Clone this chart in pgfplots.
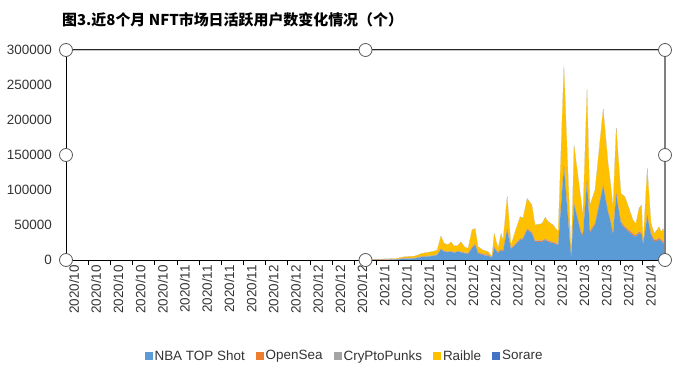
\documentclass[border=0pt]{standalone}
\usepackage{pgfplots}
\pgfplotsset{compat=1.18}
\usepackage{pgfplotstable}
\usepackage{fontspec}
\setmainfont{Liberation Sans}
\newfontfamily\cjk{Noto Sans CJK SC}
\definecolor{cnba}{HTML}{5B9BD5}
\definecolor{cos}{HTML}{ED7D31}
\definecolor{ccp}{HTML}{A5A5A5}
\definecolor{cra}{HTML}{FFC000}
\definecolor{cso}{HTML}{4472C4}
\pgfplotstableread{
day nba os cp ra so
0 0 0 0 0 0
96 0 0 0 0 0
97 200 200 400 150 50
104 400 300 500 750 50
107 1900 400 600 1800 100
110 2200 400 600 2200 100
112.3 4300 400 600 4100 100
115.5 5500 400 600 5400 100
117.1 7000 400 600 5900 100
118.3 15200 400 600 18000 100
119.3 12000 400 600 10700 100
120.5 11000 400 600 9900 100
121.5 12000 400 600 12900 100
122.4 10000 400 600 8900 100
123.7 12000 400 600 7900 100
124.6 11000 400 600 13900 100
125.9 9500 400 600 7400 100
126.9 8500 1200 700 6400 200
128.1 16700 1200 700 24200 200
129.1 21400 1200 700 21700 200
130.0 9500 1200 700 7400 200
131.6 7000 1200 700 5200 200
133.2 6000 1200 700 3900 200
134.4 3000 500 500 700 100
135.1 16700 1200 700 19200 200
136.3 9500 1200 700 5400 200
137.3 14000 1200 700 21900 200
137.9 12000 1200 700 13900 200
139.2 43000 1200 700 46300 200
140.4 15200 1200 700 4100 200
141.7 21000 1200 700 17400 200
143.3 28600 1200 700 31300 200
144.2 30000 1200 700 27900 200
145.5 43000 1200 700 42900 200
147.0 38000 1200 700 38500 200
148.0 26000 1200 700 21900 200
148.9 26000 1200 700 22900 200
150.2 26000 1200 700 23900 200
151.2 28600 1200 700 30300 200
152.1 26000 1200 700 26900 200
153.7 24000 1200 700 23900 200
155.3 21000 1200 700 17400 200
157.1 133000 2000 800 140900 300
159.4 2000 500 500 1700 100
160.3 78600 2000 800 82300 300
162.5 38000 2000 800 44600 300
163.1 34000 2000 800 27900 300
164.4 112000 2000 800 128900 300
165.3 39000 2000 800 36500 300
166.9 50000 2000 800 46900 300
169.5 105000 2000 800 107900 300
171.0 68000 2000 800 68900 300
171.7 57000 2000 800 53900 300
172.6 36000 2000 800 36900 300
173.6 93000 2000 800 92900 300
175.1 52000 2000 800 39900 300
176.4 45000 2000 800 41900 300
178.9 35000 2000 800 18900 300
179.8 33000 2000 800 15900 300
180.8 38000 2000 800 32700 300
181.6 37000 2000 800 38500 300
182.1 22000 1000 500 2300 200
183.4 62000 2000 800 65900 300
184.6 35000 2000 800 13900 300
185.6 27000 2000 800 7900 300
186.5 27000 2000 800 12900 300
187.1 29000 2000 800 15500 300
187.8 27000 2000 800 9900 300
188.4 24000 2000 800 17900 300
189 22000 2000 800 9900 300
}\datatable
\begin{document}
\begin{tikzpicture}
\path[use as bounding box] (0,0) rectangle (687bp,375bp);
\node[anchor=west, inner sep=0pt, font=\cjk\bfseries\fontsize{15}{17}\selectfont] at (62bp,355bp) {图3.近8个月 NFT市场日活跃用户数变化情况（个）};
\begin{axis}[
  at={(66bp,115bp)}, anchor=south west,
  width=599bp, height=210bp, scale only axis,
  xmin=0, xmax=189, ymin=0, ymax=300000,
  stack plots=y,
  axis x line*=bottom, axis y line*=left,
  axis line style={-, black, line width=0.9bp},
  xtick={0,7,...,182},
  xticklabels={2020/10,2020/10,2020/10,2020/10,2020/10,2020/11,2020/11,2020/11,2020/11,2020/12,2020/12,2020/12,2020/12,2020/12,2021/1,2021/1,2021/1,2021/1,2021/2,2021/2,2021/2,2021/2,2021/3,2021/3,2021/3,2021/3,2021/4},
  xticklabel style={rotate=90, anchor=east, inner sep=0pt, yshift=-8bp},
  ytick={0,50000,...,300000},
  scaled y ticks=false,
  yticklabel style={/pgf/number format/.cd, fixed, 1000 sep={}, /tikz/.cd, anchor=east, inner sep=0pt, xshift=-9bp},
  /pgf/number format/assume math mode=true,
  every tick label/.append style={font=\fontsize{13.5}{15}\selectfont, text=black!80},
  ytick style={draw=none},
  xtick style={black, line width=0.8bp},
  tick align=outside, major tick length=5bp,
  legend style={at={(0.465,-0.457)}, anchor=center, draw=none, fill=none,
    font=\fontsize{13.5}{15}\selectfont, text=black!80,
    /tikz/every even column/.append style={column sep=9bp}},
  legend columns=-1,
  legend image code/.code={\fill[#1] (0bp,-4bp) rectangle (8bp,4bp);},
]
\addplot[fill=cnba, draw=none] table[x=day,y=nba]{\datatable} \closedcycle;
\addplot[fill=cos, draw=none] table[x=day,y=os]{\datatable} \closedcycle;
\addplot[fill=ccp, draw=none] table[x=day,y=cp]{\datatable} \closedcycle;
\addplot[fill=cra, draw=none] table[x=day,y=ra]{\datatable} \closedcycle;
\addplot[fill=cso, draw=none] table[x=day,y=so]{\datatable} \closedcycle;
\legend{NBA TOP Shot, OpenSea, CryPtoPunks, Raible, Sorare}
\end{axis}
\draw[gray!45, line width=2.6bp] (66bp,325bp) -- (665bp,325bp);
\draw[black!85, line width=1bp] (66bp,325bp) -- (665bp,325bp);
\draw[gray, line width=1.2bp] (665bp,115bp) -- (665bp,325bp);
\foreach \px in {66,365.5,665} {
  \draw[gray!70!black, fill=white, line width=0.8bp] (\px bp,115bp) circle[radius=6.5bp];
  \draw[gray!70!black, fill=white, line width=0.8bp] (\px bp,325bp) circle[radius=6.5bp];
}
\draw[gray!70!black, fill=white, line width=0.8bp] (66bp,220bp) circle[radius=6.5bp];
\draw[gray!70!black, fill=white, line width=0.8bp] (665bp,220bp) circle[radius=6.5bp];
\end{tikzpicture}
\end{document}
